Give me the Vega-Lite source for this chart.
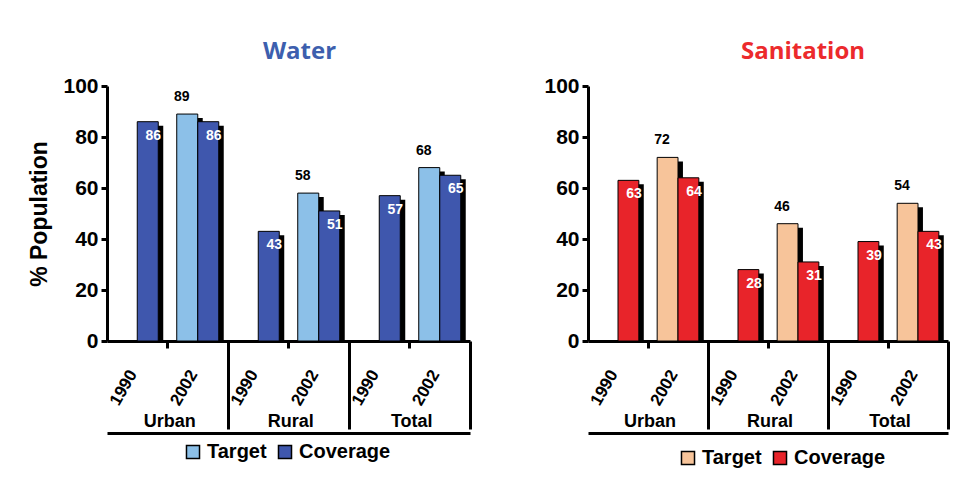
{
  "$schema": "https://vega.github.io/schema/vega-lite/v6.json",
  "background": "white",
  "padding": {"left": 28, "top": 40, "right": 5, "bottom": 5},
  "spacing": 71,
  "resolve": {"scale": {"color": "independent"}, "legend": {"color": "independent"}},
  "config": {
    "view": {"stroke": null},
    "font": "Liberation Sans",
    "axis": {"grid": false, "domainColor": "black", "tickColor": "black", "labelColor": "black", "titleColor": "black", "labelFont": "Liberation Sans", "titleFont": "Liberation Sans"}
  },
  "datasets": {
    "water": [
      {"slot": "Urban 1990", "area": "Urban", "year": "1990", "series": "Coverage", "value": 86},
      {"slot": "Urban 2002", "area": "Urban", "year": "2002", "series": "Target", "value": 89},
      {"slot": "Urban 2002", "area": "Urban", "year": "2002", "series": "Coverage", "value": 86},
      {"slot": "Rural 1990", "area": "Rural", "year": "1990", "series": "Coverage", "value": 43},
      {"slot": "Rural 2002", "area": "Rural", "year": "2002", "series": "Target", "value": 58},
      {"slot": "Rural 2002", "area": "Rural", "year": "2002", "series": "Coverage", "value": 51},
      {"slot": "Total 1990", "area": "Total", "year": "1990", "series": "Coverage", "value": 57},
      {"slot": "Total 2002", "area": "Total", "year": "2002", "series": "Target", "value": 68},
      {"slot": "Total 2002", "area": "Total", "year": "2002", "series": "Coverage", "value": 65}
    ],
    "sanitation": [
      {"slot": "Urban 1990", "area": "Urban", "year": "1990", "series": "Coverage", "value": 63},
      {"slot": "Urban 2002", "area": "Urban", "year": "2002", "series": "Target", "value": 72},
      {"slot": "Urban 2002", "area": "Urban", "year": "2002", "series": "Coverage", "value": 64},
      {"slot": "Rural 1990", "area": "Rural", "year": "1990", "series": "Coverage", "value": 28},
      {"slot": "Rural 2002", "area": "Rural", "year": "2002", "series": "Target", "value": 46},
      {"slot": "Rural 2002", "area": "Rural", "year": "2002", "series": "Coverage", "value": 31},
      {"slot": "Total 1990", "area": "Total", "year": "1990", "series": "Coverage", "value": 39},
      {"slot": "Total 2002", "area": "Total", "year": "2002", "series": "Target", "value": 54},
      {"slot": "Total 2002", "area": "Total", "year": "2002", "series": "Coverage", "value": 43}
    ]
  },
  "hconcat": [
    {
      "width": 363,
      "height": 255,
      "data": {"name": "water"},
      "title": {"text": "Water", "color": "#3d5fae", "font": "Open Sans", "fontSize": 24, "fontWeight": "bold", "anchor": "middle", "dx": 11, "offset": 11},
      "resolve": {"axis": {"x": "independent"}, "scale": {"xOffset": "independent"}},
      "layer": [
        {
          "mark": {"type": "bar", "color": "black", "yOffset": 4, "clip": true},
          "encoding": {
            "x": {"field": "slot", "type": "nominal", "sort": ["Urban 1990", "Urban 2002", "Rural 1990", "Rural 2002", "Total 1990", "Total 2002"], "scale": {"paddingInner": 0, "paddingOuter": 0},
              "axis": {"title": null, "bandPosition": 1, "domainWidth": 3, "tickWidth": 3, "tickSize": {"condition": {"test": "indexof(datum.value, '2002') >= 0", "value": 88}, "value": 7}, "labelExpr": "split(datum.value, ' ')[1]", "labelAngle": -60, "labelOffset": -4, "labelPadding": {"condition": {"test": "indexof(datum.value, '2002') >= 0", "value": -58}, "value": 23}, "labelFontSize": 17, "labelFontWeight": "bold"}},
            "xOffset": {"field": "series", "scale": {"domain": ["Target", "Coverage"], "paddingInner": 0, "paddingOuter": 0.44, "align": 0.77}},
            "y": {"field": "value", "type": "quantitative", "scale": {"domain": [0, 100]},
              "axis": {"values": [0, 20, 40, 60, 80, 100], "domainWidth": 3, "tickWidth": 3, "tickSize": 6, "labelFontSize": 21, "labelFontWeight": "bold", "labelPadding": 3, "title": "% Population", "titleFontSize": 23, "titleFontWeight": "bold", "titlePadding": 11}}
          }
        },
        {
          "mark": {"type": "bar", "stroke": "black", "strokeWidth": 1},
          "encoding": {
            "x": {"field": "slot", "type": "nominal", "sort": ["Urban 1990", "Urban 2002", "Rural 1990", "Rural 2002", "Total 1990", "Total 2002"],
              "axis": {"title": null, "orient": "bottom", "offset": 92, "domainWidth": 3, "ticks": false, "tickSize": 0, "labelExpr": "indexof(datum.value, '2002') >= 0 ? split(datum.value, ' ')[0] : ''", "labelAngle": 0, "labelOffset": -28, "labelPadding": -21, "labelFontSize": 18, "labelFontWeight": "bold"}},
            "xOffset": {"field": "series", "scale": {"domain": ["Target", "Coverage"], "paddingInner": 0, "paddingOuter": 0.44, "align": 0.5}},
            "y": {"field": "value", "type": "quantitative"},
            "color": {"field": "series", "type": "nominal", "scale": {"domain": ["Target", "Coverage"], "range": ["#8cc0e8", "#3f57ad"]},
              "legend": {"title": null, "orient": "none", "legendX": 76, "legendY": 356, "direction": "horizontal", "symbolType": "square", "symbolSize": 170, "symbolStrokeColor": "black", "symbolStrokeWidth": 1.5, "labelFontSize": 20, "labelFontWeight": "bold", "labelColor": "black", "columnPadding": 8, "symbolOpacity": 1}}
          }
        },
        {
          "transform": [{"filter": "datum.series == 'Coverage'"}],
          "mark": {"type": "text", "color": "white", "baseline": "top", "dy": 7, "fontSize": 14, "fontWeight": "bold"},
          "encoding": {
            "x": {"field": "slot", "type": "nominal", "sort": ["Urban 1990", "Urban 2002", "Rural 1990", "Rural 2002", "Total 1990", "Total 2002"], "axis": null},
            "xOffset": {"field": "series", "scale": {"domain": ["Target", "Coverage"], "paddingInner": 0, "paddingOuter": 0.44, "align": 0.5}},
            "y": {"field": "value", "type": "quantitative"},
            "text": {"field": "value", "type": "quantitative"}
          }
        },
        {
          "transform": [{"filter": "datum.series == 'Target'"}],
          "mark": {"type": "text", "color": "black", "baseline": "bottom", "dy": -10, "fontSize": 14, "fontWeight": "bold"},
          "encoding": {
            "x": {"field": "slot", "type": "nominal", "sort": ["Urban 1990", "Urban 2002", "Rural 1990", "Rural 2002", "Total 1990", "Total 2002"], "axis": null},
            "xOffset": {"field": "series", "scale": {"domain": ["Target", "Coverage"], "paddingInner": 0, "paddingOuter": 0.44, "align": 0.5}},
            "y": {"field": "value", "type": "quantitative"},
            "text": {"field": "value", "type": "quantitative"}
          }
        }
      ]
    },
    {
      "width": 360,
      "height": 255,
      "data": {"name": "sanitation"},
      "title": {"text": "Sanitation", "color": "#ec2a2c", "font": "Open Sans", "fontSize": 24, "fontWeight": "bold", "anchor": "middle", "dx": 35, "offset": 11},
      "resolve": {"axis": {"x": "independent"}, "scale": {"xOffset": "independent"}},
      "layer": [
        {
          "mark": {"type": "bar", "color": "black", "yOffset": 4, "clip": true},
          "encoding": {
            "x": {"field": "slot", "type": "nominal", "sort": ["Urban 1990", "Urban 2002", "Rural 1990", "Rural 2002", "Total 1990", "Total 2002"], "scale": {"paddingInner": 0, "paddingOuter": 0},
              "axis": {"title": null, "bandPosition": 1, "domainWidth": 3, "tickWidth": 3, "tickSize": {"condition": {"test": "indexof(datum.value, '2002') >= 0", "value": 88}, "value": 7}, "labelExpr": "split(datum.value, ' ')[1]", "labelAngle": -60, "labelOffset": -4, "labelPadding": {"condition": {"test": "indexof(datum.value, '2002') >= 0", "value": -58}, "value": 23}, "labelFontSize": 17, "labelFontWeight": "bold"}},
            "xOffset": {"field": "series", "scale": {"domain": ["Target", "Coverage"], "paddingInner": 0, "paddingOuter": 0.44, "align": 0.77}},
            "y": {"field": "value", "type": "quantitative", "scale": {"domain": [0, 100]},
              "axis": {"values": [0, 20, 40, 60, 80, 100], "domainWidth": 3, "tickWidth": 3, "tickSize": 6, "labelFontSize": 21, "labelFontWeight": "bold", "labelPadding": 3, "title": null}}
          }
        },
        {
          "mark": {"type": "bar", "stroke": "black", "strokeWidth": 1},
          "encoding": {
            "x": {"field": "slot", "type": "nominal", "sort": ["Urban 1990", "Urban 2002", "Rural 1990", "Rural 2002", "Total 1990", "Total 2002"],
              "axis": {"title": null, "orient": "bottom", "offset": 92, "domainWidth": 3, "ticks": false, "tickSize": 0, "labelExpr": "indexof(datum.value, '2002') >= 0 ? split(datum.value, ' ')[0] : ''", "labelAngle": 0, "labelOffset": -28, "labelPadding": -21, "labelFontSize": 18, "labelFontWeight": "bold"}},
            "xOffset": {"field": "series", "scale": {"domain": ["Target", "Coverage"], "paddingInner": 0, "paddingOuter": 0.44, "align": 0.5}},
            "y": {"field": "value", "type": "quantitative"},
            "color": {"field": "series", "type": "nominal", "scale": {"domain": ["Target", "Coverage"], "range": ["#f7c49a", "#e8242a"]},
              "legend": {"title": null, "orient": "none", "legendX": 90, "legendY": 362, "direction": "horizontal", "symbolType": "square", "symbolSize": 170, "symbolStrokeColor": "black", "symbolStrokeWidth": 1.5, "labelFontSize": 20, "labelFontWeight": "bold", "labelColor": "black", "columnPadding": 8, "symbolOpacity": 1}}
          }
        },
        {
          "transform": [{"filter": "datum.series == 'Coverage'"}],
          "mark": {"type": "text", "color": "white", "baseline": "top", "dy": 7, "fontSize": 14, "fontWeight": "bold"},
          "encoding": {
            "x": {"field": "slot", "type": "nominal", "sort": ["Urban 1990", "Urban 2002", "Rural 1990", "Rural 2002", "Total 1990", "Total 2002"], "axis": null},
            "xOffset": {"field": "series", "scale": {"domain": ["Target", "Coverage"], "paddingInner": 0, "paddingOuter": 0.44, "align": 0.5}},
            "y": {"field": "value", "type": "quantitative"},
            "text": {"field": "value", "type": "quantitative"}
          }
        },
        {
          "transform": [{"filter": "datum.series == 'Target'"}],
          "mark": {"type": "text", "color": "black", "baseline": "bottom", "dy": -10, "fontSize": 14, "fontWeight": "bold"},
          "encoding": {
            "x": {"field": "slot", "type": "nominal", "sort": ["Urban 1990", "Urban 2002", "Rural 1990", "Rural 2002", "Total 1990", "Total 2002"], "axis": null},
            "xOffset": {"field": "series", "scale": {"domain": ["Target", "Coverage"], "paddingInner": 0, "paddingOuter": 0.44, "align": 0.5}},
            "y": {"field": "value", "type": "quantitative"},
            "text": {"field": "value", "type": "quantitative"}
          }
        }
      ]
    }
  ]
}
